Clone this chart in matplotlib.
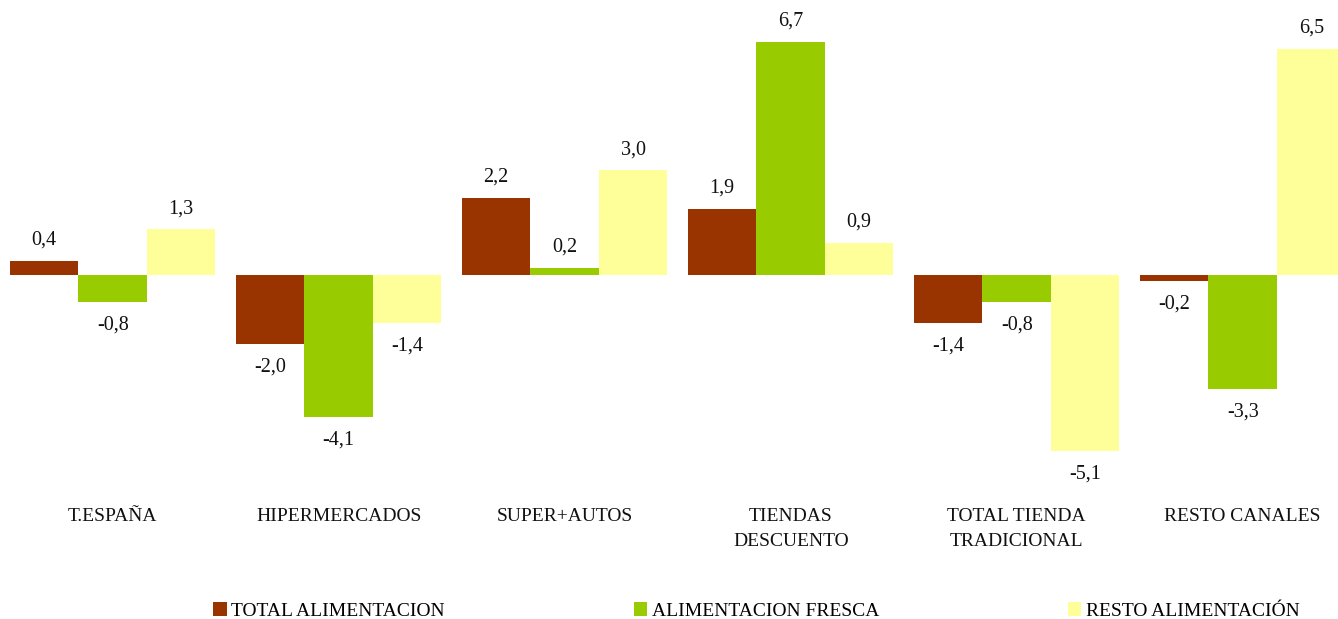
import matplotlib
matplotlib.use("Agg")
import matplotlib.pyplot as plt
import matplotlib.transforms as mtransforms
from matplotlib.patches import Patch
import numpy as np

categories = ["T.ESPAÑA", "HIPERMERCADOS", "SUPER+AUTOS", "TIENDAS\nDESCUENTO",
              "TOTAL TIENDA\nTRADICIONAL", "RESTO CANALES"]
series_names = ["TOTAL ALIMENTACION", "ALIMENTACION FRESCA", "RESTO ALIMENTACIÓN"]
total_alimentacion = [0.4, -2.0, 2.2, 1.9, -1.4, -0.2]
alimentacion_fresca = [-0.8, -4.1, 0.2, 6.7, -0.8, -3.3]
resto_alimentacion = [1.3, -1.4, 3.0, 0.9, -5.1, 6.5]
colors = ["#993300", "#99CC00", "#FFFF99"]

plt.rcParams['font.family'] = ['Liberation Serif', 'DejaVu Serif']

W, H = 1338, 619
fig = plt.figure(figsize=(W / 100, H / 100), dpi=100)
ax_left, ax_top, ax_bottom = 10, 10, 470
ax = fig.add_axes([ax_left / W, 1 - ax_bottom / H, 1 - ax_left / W, (ax_bottom - ax_top) / H])

x = np.arange(len(categories))
bw = 0.303
all_series = [total_alimentacion, alimentacion_fresca, resto_alimentacion]
for i, (vals, c) in enumerate(zip(all_series, colors)):
    xs = x + (i - 1) * bw
    ax.bar(xs, vals, width=bw, color=c, linewidth=0, label=series_names[i])
    for xi, v in zip(xs, vals):
        lab = f"{v:.1f}".replace(".", ",")
        off = 15 if v >= 0 else -16.5
        ax.annotate(lab, (xi, v), xytext=(0, off), textcoords="offset points",
                    ha="center", va="center", fontsize=14.5, color="#111111")

px_per_unit = 34.7
zero_y = 274.5
ax.set_ylim(-(ax_bottom - zero_y) / px_per_unit, (zero_y - ax_top) / px_per_unit)
ax.set_xlim(-1.5 * bw, -1.5 * bw + (W - ax_left) / 226)
ax.axis("off")

trans = mtransforms.blended_transform_factory(ax.transData, fig.transFigure)
for xi, cat in zip(x, categories):
    ax.text(xi, 1 - 508 / H, cat, transform=trans, ha="center", va="top",
            fontsize=14, linespacing=1.6, color="#111111")

handles = [Patch(facecolor=c, edgecolor="none") for c in colors]
fig.legend(handles, series_names, loc="lower left",
           bbox_to_anchor=(213 / W, 1 - 620 / H, (1300 - 213) / W, 22 / H),
           mode="expand", ncol=3, frameon=False, fontsize=14,
           handlelength=0.7, handleheight=0.7, handletextpad=0.25,
           borderaxespad=0, borderpad=0)

fig.savefig("out.png", dpi=100)
